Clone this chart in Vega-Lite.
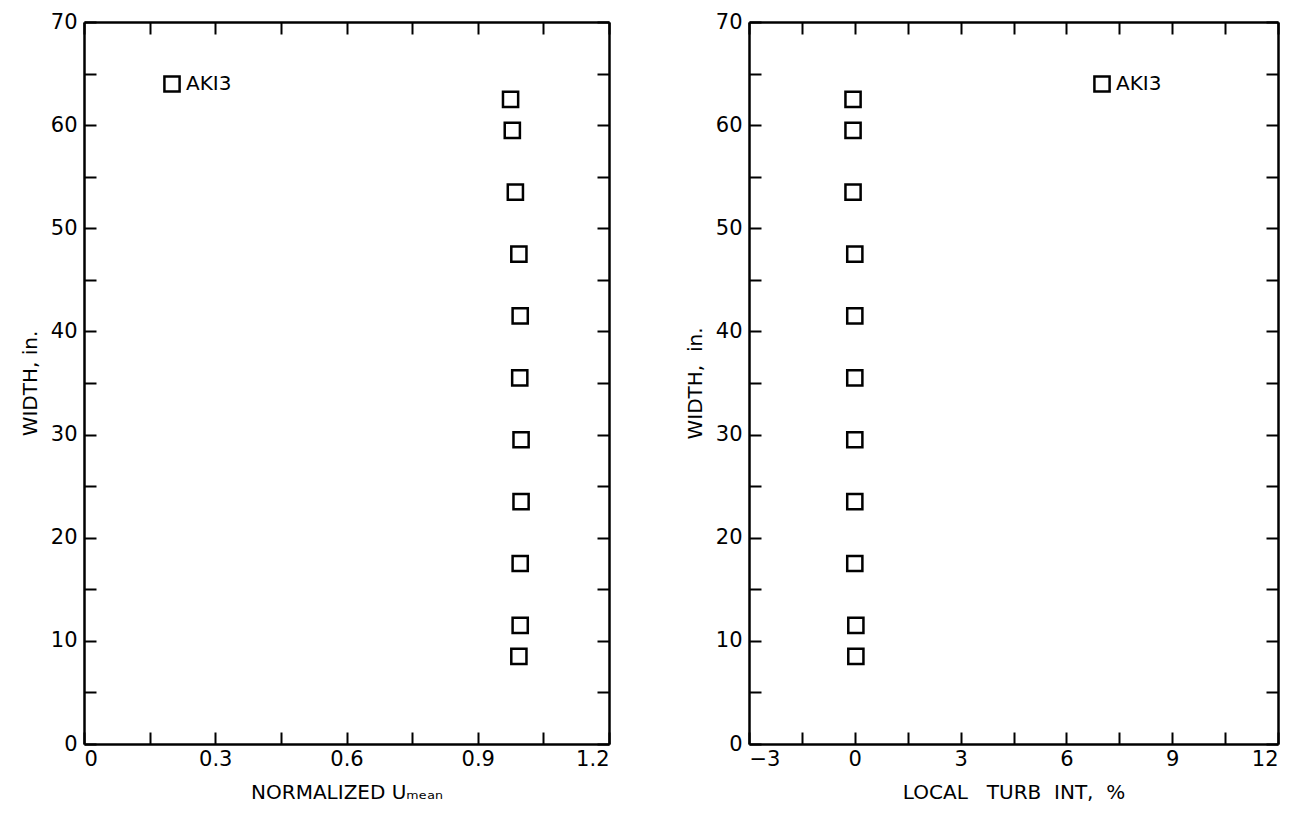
{
  "$schema": "https://vega.github.io/schema/vega-lite/v6.json",
  "background": "white",
  "padding": {"left": 20, "top": 11, "right": 5, "bottom": 5},
  "config": {
    "view": {"stroke": null},
    "font": "DejaVu Sans",
    "axis": {
      "grid": false,
      "domainColor": "black",
      "domainWidth": 2.5,
      "tickColor": "black",
      "tickWidth": 2,
      "tickSize": -12,
      "labelColor": "black",
      "labelFontSize": 21,
      "labelFont": "DejaVu Sans",
      "labelPadding": 19,
      "titleFont": "DejaVu Sans",
      "titleFontSize": 20,
      "titleFontWeight": "normal",
      "titleColor": "black",
      "titlePadding": 10
    },
    "axisBottom": {"labelPadding": 16, "titlePadding": 13},
    "legend": {
      "labelFont": "DejaVu Sans",
      "labelFontSize": 20,
      "labelColor": "black",
      "symbolStrokeColor": "black",
      "symbolFillColor": "white",
      "symbolStrokeWidth": 2.5,
      "symbolSize": 230,
      "symbolType": "square",
      "title": null,
      "padding": 0
    }
  },
  "datasets": {
    "umean": [
      {"series": "AKI3", "width_in": 62.5, "u_mean": 0.975},
      {"series": "AKI3", "width_in": 59.5, "u_mean": 0.979},
      {"series": "AKI3", "width_in": 53.5, "u_mean": 0.986},
      {"series": "AKI3", "width_in": 47.5, "u_mean": 0.994},
      {"series": "AKI3", "width_in": 41.5, "u_mean": 0.997},
      {"series": "AKI3", "width_in": 35.5, "u_mean": 0.996},
      {"series": "AKI3", "width_in": 29.5, "u_mean": 0.999},
      {"series": "AKI3", "width_in": 23.5, "u_mean": 0.999},
      {"series": "AKI3", "width_in": 17.5, "u_mean": 0.997},
      {"series": "AKI3", "width_in": 11.5, "u_mean": 0.997},
      {"series": "AKI3", "width_in": 8.5, "u_mean": 0.994}
    ],
    "turb": [
      {"series": "AKI3", "width_in": 62.5, "turb": -0.05},
      {"series": "AKI3", "width_in": 59.5, "turb": -0.05},
      {"series": "AKI3", "width_in": 53.5, "turb": -0.05},
      {"series": "AKI3", "width_in": 47.5, "turb": 0.0},
      {"series": "AKI3", "width_in": 41.5, "turb": 0.0},
      {"series": "AKI3", "width_in": 35.5, "turb": 0.0},
      {"series": "AKI3", "width_in": 29.5, "turb": 0.0},
      {"series": "AKI3", "width_in": 23.5, "turb": 0.0},
      {"series": "AKI3", "width_in": 17.5, "turb": 0.0},
      {"series": "AKI3", "width_in": 11.5, "turb": 0.03},
      {"series": "AKI3", "width_in": 8.5, "turb": 0.03}
    ]
  },
  "spacing": 75,
  "resolve": {"legend": {"shape": "independent"}},
  "hconcat": [
    {
      "width": 525,
      "height": 722,
      "data": {"name": "umean"},
      "layer": [
        {
          "mark": {"type": "point", "filled": false, "stroke": "black", "strokeWidth": 2.5, "size": 230, "opacity": 1},
          "encoding": {
            "x": {
              "field": "u_mean", "type": "quantitative",
              "scale": {"domain": [0, 1.2], "nice": false, "zero": false},
              "axis": {
                "orient": "bottom", "title": "NORMALIZED Uₘₑₐₙ",
                "values": [0, 0.15, 0.3, 0.45, 0.6, 0.75, 0.9, 1.05, 1.2],
                "labelExpr": "round(datum.value*100) % 30 == 0 ? (datum.value == 0 ? '0' : format(datum.value, '.1f')) : ''"
              }
            },
            "y": {
              "field": "width_in", "type": "quantitative",
              "scale": {"domain": [0, 70], "nice": false},
              "axis": {
                "orient": "left", "title": "WIDTH, in.",
                "values": [0, 5, 10, 15, 20, 25, 30, 35, 40, 45, 50, 55, 60, 65, 70],
                "labelExpr": "datum.value % 10 == 0 ? format(datum.value, 'd') : ''"
              }
            },
            "shape": {
              "field": "series", "type": "nominal",
              "scale": {"range": ["square"]},
              "legend": {"orient": "none", "legendX": 78, "legendY": 52}
            }
          }
        },
        {
          "mark": {"type": "point", "opacity": 0},
          "encoding": {
            "x": {
              "field": "u_mean", "type": "quantitative",
              "axis": {"orient": "top", "title": null, "labels": false,
                "values": [0, 0.15, 0.3, 0.45, 0.6, 0.75, 0.9, 1.05, 1.2]}
            },
            "y": {
              "field": "width_in", "type": "quantitative",
              "axis": {"orient": "right", "title": null, "labels": false,
                "values": [0, 5, 10, 15, 20, 25, 30, 35, 40, 45, 50, 55, 60, 65, 70]}
            }
          }
        }
      ],
      "resolve": {"axis": {"x": "independent", "y": "independent"}}
    },
    {
      "width": 529,
      "height": 722,
      "data": {"name": "turb"},
      "layer": [
        {
          "mark": {"type": "point", "filled": false, "stroke": "black", "strokeWidth": 2.5, "size": 230, "opacity": 1},
          "encoding": {
            "x": {
              "field": "turb", "type": "quantitative",
              "scale": {"domain": [-3, 12], "nice": false, "zero": false},
              "axis": {
                "orient": "bottom", "title": "LOCAL\u00a0\u00a0\u00a0TURB\u00a0\u00a0INT,\u00a0\u00a0%",
                "values": [-3, -1.5, 0, 1.5, 3, 4.5, 6, 7.5, 9, 10.5, 12],
                "labelExpr": "round(datum.value*10) % 30 == 0 ? format(datum.value, 'd') : ''"
              }
            },
            "y": {
              "field": "width_in", "type": "quantitative",
              "scale": {"domain": [0, 70], "nice": false},
              "axis": {
                "orient": "left", "title": "WIDTH,\u00a0\u00a0in.",
                "values": [0, 5, 10, 15, 20, 25, 30, 35, 40, 45, 50, 55, 60, 65, 70],
                "labelExpr": "datum.value % 10 == 0 ? format(datum.value, 'd') : ''"
              }
            },
            "shape": {
              "field": "series", "type": "nominal",
              "scale": {"range": ["square"]},
              "legend": {"orient": "none", "legendX": 343, "legendY": 52}
            }
          }
        },
        {
          "mark": {"type": "point", "opacity": 0},
          "encoding": {
            "x": {
              "field": "turb", "type": "quantitative",
              "axis": {"orient": "top", "title": null, "labels": false,
                "values": [-3, -1.5, 0, 1.5, 3, 4.5, 6, 7.5, 9, 10.5, 12]}
            },
            "y": {
              "field": "width_in", "type": "quantitative",
              "axis": {"orient": "right", "title": null, "labels": false,
                "values": [0, 5, 10, 15, 20, 25, 30, 35, 40, 45, 50, 55, 60, 65, 70]}
            }
          }
        }
      ],
      "resolve": {"axis": {"x": "independent", "y": "independent"}}
    }
  ]
}
